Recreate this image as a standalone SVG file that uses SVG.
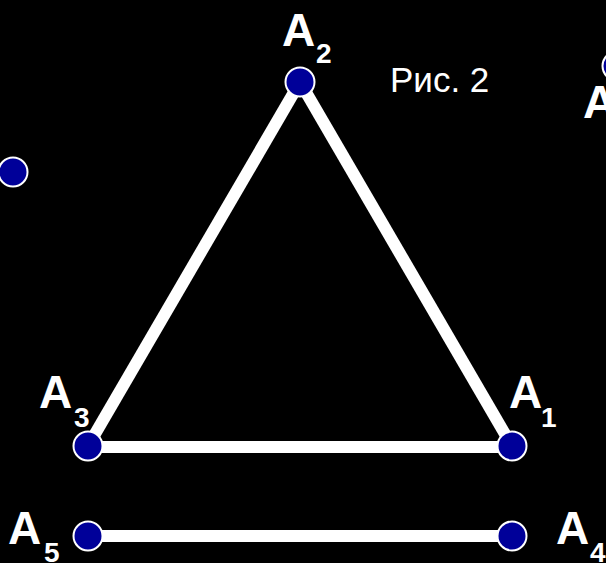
<svg xmlns="http://www.w3.org/2000/svg" width="606" height="563" viewBox="0 0 606 563">
<style>
.seg{stroke:#fff;stroke-width:12;fill:none;stroke-linecap:butt}
.pt{fill:#000099;stroke:#fff;stroke-width:2}
.lbl{font-family:"Liberation Sans",Arial,sans-serif;font-weight:bold;fill:#fff;font-size:46px}
.sub{font-family:"Liberation Sans",Arial,sans-serif;font-weight:bold;fill:#fff;font-size:28px}
.cap{font-family:"Liberation Sans",Arial,sans-serif;fill:#fff;font-size:35px}
</style>
<rect width="606" height="563" fill="#000"/>
<g id="connectors">
<line class="seg" x1="300" y1="82" x2="88" y2="446"/>
<line class="seg" x1="300" y1="82" x2="512" y2="446"/>
<line class="seg" x1="88" y1="447" x2="512" y2="447"/>
<line class="seg" x1="88" y1="536" x2="512" y2="536"/>
</g>
<g id="A2"><circle class="pt" cx="300" cy="82" r="14.5"/><text class="lbl" x="282" y="46">A</text><text class="sub" x="316" y="63">2</text></g>
<g id="A3"><circle class="pt" cx="88" cy="446" r="14.5"/><text class="lbl" x="39" y="408">A</text><text class="sub" x="74" y="427">3</text></g>
<g id="A1"><circle class="pt" cx="512" cy="446" r="14.5"/><text class="lbl" x="509" y="408">A</text><text class="sub" x="541" y="427">1</text></g>
<g id="A5"><circle class="pt" cx="88" cy="536" r="14.5"/><text class="lbl" x="8" y="544">A</text><text class="sub" x="44" y="562">5</text></g>
<g id="A4"><circle class="pt" cx="512" cy="536" r="14.5"/><text class="lbl" x="556" y="544">A</text><text class="sub" x="590" y="562">4</text></g>
<g id="P"><circle class="pt" cx="13" cy="172" r="14.5"/></g>
<g id="Aextra"><circle class="pt" cx="617" cy="66" r="14.5"/><text class="lbl" x="583" y="118">A</text></g>
<g id="caption"><text class="cap" x="390" y="92">Рис. 2</text></g>
</svg>
